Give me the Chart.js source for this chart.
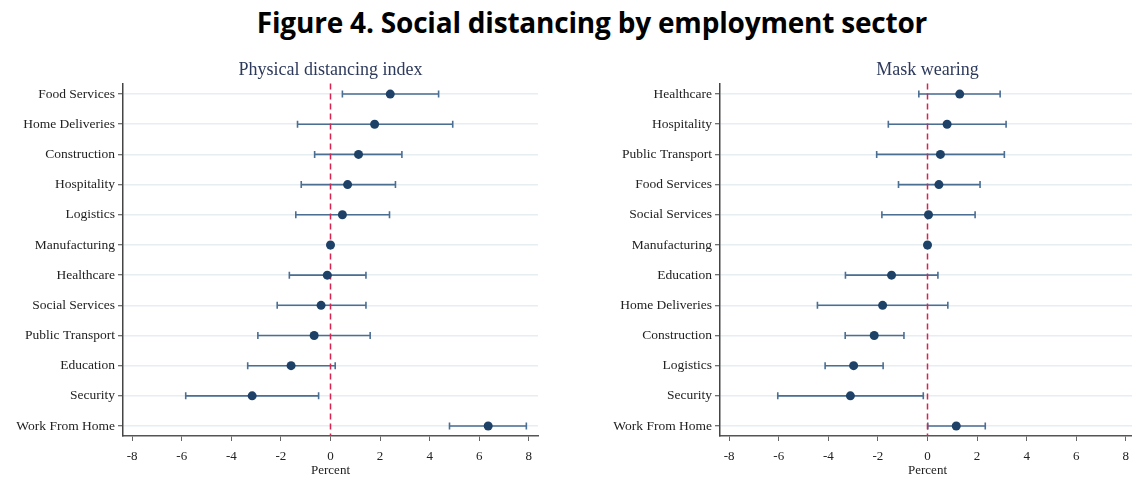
<!DOCTYPE html>
<html>
<head>
<meta charset="utf-8">
<script src="https://cdn.jsdelivr.net/npm/chart.js@4/dist/chart.umd.min.js"></script>
<style>
  html, body { margin: 0; padding: 0; background: #ffffff; }
  #page { position: relative; width: 1132px; height: 479px; overflow: hidden; background: #ffffff; }
  #heading {
    position: absolute; left: 0; top: 3px; width: 1184px; text-align: center;
    font-family: "Open Sans", "Noto Sans", sans-serif; font-weight: 700; font-size: 28px;
    color: #000000; line-height: 38px; letter-spacing: -0.2px;
  }
  canvas { position: absolute; top: 0; }
  #left { left: 0; }
  #right { left: 597px; }
</style>
</head>
<body>
<div id="page">
  <div id="heading">Figure 4. Social distancing by employment sector</div>
  <canvas id="left" width="560" height="479"></canvas>
  <canvas id="right" width="560" height="479"></canvas>
</div>
<script>
// Physical distancing index: estimates and 95% intervals by sector (percent)
const distancingSectors = ["Food Services", "Home Deliveries", "Construction", "Hospitality", "Logistics",
  "Manufacturing", "Healthcare", "Social Services", "Public Transport", "Education", "Security", "Work From Home"];
const distancingEst = [2.41, 1.78, 1.13, 0.69, 0.48, 0, -0.13, -0.38, -0.66, -1.59, -3.16, 6.36];
const distancingLo  = [0.48, -1.33, -0.64, -1.18, -1.40, null, -1.66, -2.15, -2.93, -3.34, -5.84, 4.80];
const distancingHi  = [4.36, 4.93, 2.88, 2.62, 2.38, null, 1.43, 1.43, 1.60, 0.19, -0.48, 7.90];

// Mask wearing: estimates and 95% intervals by sector (percent)
const maskSectors = ["Healthcare", "Hospitality", "Public Transport", "Food Services", "Social Services",
  "Manufacturing", "Education", "Home Deliveries", "Construction", "Logistics", "Security", "Work From Home"];
const maskEst = [1.30, 0.79, 0.52, 0.46, 0.04, 0, -1.45, -1.81, -2.15, -2.98, -3.11, 1.16];
const maskLo  = [-0.35, -1.58, -2.05, -1.17, -1.84, null, -3.31, -4.44, -3.32, -4.13, -6.04, 0.01];
const maskHi  = [2.93, 3.17, 3.10, 2.12, 1.92, null, 0.42, 0.82, -0.95, -1.79, -0.17, 2.33];

const xTickValues = [-8, -6, -4, -2, 0, 2, 4, 6, 8];

const SERIF = "'Liberation Serif', 'DejaVu Serif', serif";

// Draws the confidence-interval whiskers and the dashed reference line at zero
const intervalPlugin = {
  id: 'intervals',
  beforeDatasetsDraw(chart) {
    const { ctx, chartArea, scales: { x, y } } = chart;
    const ds = chart.data.datasets[0];
    ctx.save();
    ctx.strokeStyle = '#4b6e93';
    ctx.lineWidth = 1.6;
    ds.lo.forEach((lo, i) => {
      const hi = ds.hi[i];
      if (lo == null || hi == null) return;
      const py = y.getPixelForValue(i);
      const x1 = x.getPixelForValue(lo);
      const x2 = x.getPixelForValue(hi);
      ctx.beginPath();
      ctx.moveTo(x1, py); ctx.lineTo(x2, py);
      ctx.moveTo(x1, py - 3.5); ctx.lineTo(x1, py + 3.5);
      ctx.moveTo(x2, py - 3.5); ctx.lineTo(x2, py + 3.5);
      ctx.stroke();
    });
    const zx = x.getPixelForValue(0);
    ctx.strokeStyle = '#d6234f';
    ctx.lineWidth = 1.5;
    ctx.setLineDash([6, 4]);
    ctx.beginPath();
    ctx.moveTo(zx, chartArea.top);
    ctx.lineTo(zx, chartArea.bottom);
    ctx.stroke();
    ctx.restore();
  }
};

// Panel heading, centred over the plotting area
const panelTitlePlugin = {
  id: 'panelTitle',
  afterDraw(chart, args, opts) {
    const { ctx, chartArea } = chart;
    ctx.save();
    ctx.fillStyle = '#2d3a5c';
    ctx.font = "18px " + SERIF;
    ctx.textAlign = 'center';
    ctx.textBaseline = 'middle';
    ctx.fillText(opts.text, (chartArea.left + chartArea.right) / 2, chartArea.top - 13.5);
    ctx.restore();
  }
};

function buildPanel(canvasId, title, sectors, est, lo, hi) {
  return new Chart(document.getElementById(canvasId), {
    type: 'scatter',
    data: {
      datasets: [{
        data: est.map((v, i) => ({ x: v, y: i })),
        lo: lo,
        hi: hi,
        pointRadius: 4.5,
        pointBackgroundColor: '#1d4167',
        pointBorderWidth: 0,
        showLine: false
      }]
    },
    options: {
      responsive: false,
      animation: false,
      events: [],
      layout: { padding: { top: 83.5, right: 22, bottom: 0, left: 0 } },
      plugins: {
        legend: { display: false },
        tooltip: { enabled: false },
        title: { display: false },
        panelTitle: { text: title }
      },
      scales: {
        x: {
          type: 'linear',
          min: -8.37,
          max: 8.37,
          afterBuildTicks: s => { s.ticks = xTickValues.map(v => ({ value: v })); },
          afterFit: s => { s.height = 43; },
          grid: { drawOnChartArea: false, tickLength: 5, tickColor: '#666666', tickWidth: 1 },
          border: { color: '#555555', width: 1.5 },
          ticks: { color: '#222222', padding: 8, font: { family: SERIF, size: 13 } },
          title: {
            display: true, text: 'Percent', color: '#222222',
            font: { family: SERIF, size: 13 }, padding: { top: 0, bottom: 1 }
          }
        },
        y: {
          type: 'linear',
          reverse: true,
          min: -0.35,
          max: 11.33,
          afterBuildTicks: s => { s.ticks = sectors.map((_, i) => ({ value: i })); },
          afterFit: s => { s.width = 123; },
          grid: { color: '#e6eef2', lineWidth: 1.5, tickLength: 5, tickColor: '#444444', tickWidth: 1 },
          border: { color: '#444444', width: 1.5 },
          ticks: {
            color: '#222222', padding: 3, font: { family: SERIF, size: 13.5 },
            callback: v => sectors[Math.round(v)]
          }
        }
      }
    },
    plugins: [intervalPlugin, panelTitlePlugin]
  });
}

buildPanel('left', 'Physical distancing index', distancingSectors, distancingEst, distancingLo, distancingHi);
buildPanel('right', 'Mask wearing', maskSectors, maskEst, maskLo, maskHi);
</script>
</body>
</html>
